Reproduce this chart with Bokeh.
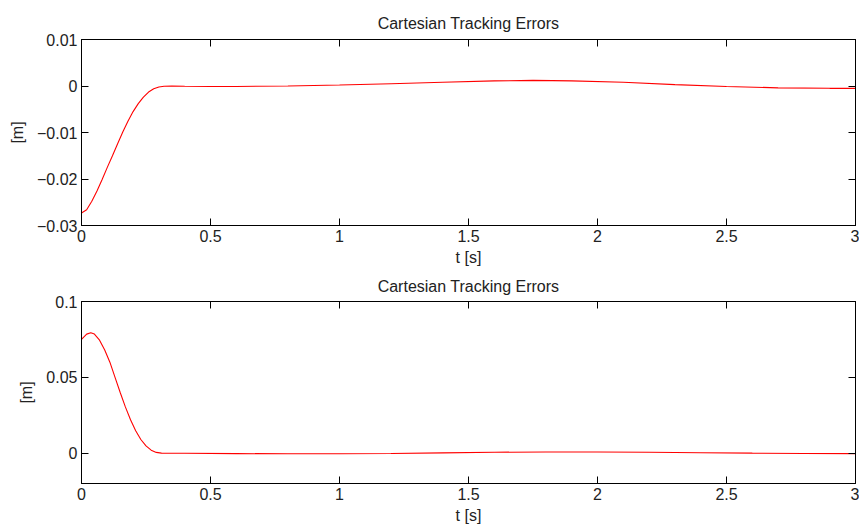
from bokeh.plotting import figure
from bokeh.layouts import column
from bokeh.models import LinearAxis, FixedTicker, Range1d
from bokeh.embed import file_html
from bokeh.resources import INLINE

# ---- data ----
top_t = [0, 0.02, 0.04, 0.06, 0.08, 0.10, 0.12, 0.14, 0.16, 0.18, 0.20, 0.22, 0.24,
         0.26, 0.28, 0.30, 0.32, 0.35, 0.4, 0.5, 0.6, 0.8, 1.0, 1.2, 1.4, 1.6, 1.75,
         1.9, 2.1, 2.3, 2.5, 2.7, 2.9, 3.0]
top_err = [-0.0273, -0.0266, -0.0248, -0.0226, -0.0201, -0.0175, -0.0150, -0.0124,
           -0.0099, -0.0076, -0.0055, -0.0038, -0.0024, -0.0013, -0.0006, -0.0002,
           -0.00005, 0.0, -0.00005, -0.0001, -0.0001, 0.0, 0.0002, 0.0005, 0.0008,
           0.0011, 0.0012, 0.0011, 0.0008, 0.0003, -0.0001, -0.0004, -0.0005, -0.0005]

bot_t = [0, 0.02, 0.036, 0.05, 0.07, 0.09, 0.11, 0.13, 0.15, 0.17, 0.19, 0.21, 0.23,
         0.25, 0.27, 0.29, 0.31, 0.33, 0.4, 0.6, 0.8, 1.0, 1.2, 1.4, 1.6, 1.8, 2.0,
         2.2, 2.4, 2.6, 2.8, 3.0]
bot_err = [0.0751, 0.0785, 0.0794, 0.0785, 0.0745, 0.0680, 0.0600, 0.0500, 0.0400,
           0.0305, 0.0220, 0.0148, 0.0090, 0.0048, 0.0020, 0.0005, 0.0, -0.0001,
           -0.0001, -0.0003, -0.0004, -0.0004, -0.0002, 0.0002, 0.0006, 0.0008,
           0.0008, 0.0006, 0.0003, 0.0, -0.0002, -0.0003]

x_ticks = [0, 0.5, 1, 1.5, 2, 2.5, 3]
x_tick_labels = ["0", "0.5", "1", "1.5", "2", "2.5", "3"]
top_y_ticks = [-0.03, -0.02, -0.01, 0, 0.01]
top_y_tick_labels = ["\u22120.03", "\u22120.02", "\u22120.01", "0", "0.01"]
bot_y_ticks = [0, 0.05, 0.1]
bot_y_tick_labels = ["0", "0.05", "0.1"]

title_text = "Cartesian Tracking Errors"
x_label = "t [s]"
y_label = "[m]"

FONT = "Liberation Sans"
TXT = "#222222"
FS = "16px"


def style_axis(ax, ticks, labels=None):
    ax.ticker = FixedTicker(ticks=ticks)
    ax.major_tick_in = 7
    ax.major_tick_out = 0
    ax.minor_tick_in = 0
    ax.minor_tick_out = 0
    ax.axis_line_color = "black"
    ax.major_tick_line_color = "black"
    if labels is None:
        ax.major_label_text_font_size = "0px"
        ax.major_label_standoff = 0
        ax.major_label_overrides = {t: "" for t in ticks}
    else:
        ax.major_label_overrides = dict(zip(ticks, labels))
        ax.major_label_text_font = FONT
        ax.major_label_text_font_size = FS
        ax.major_label_text_color = TXT


def panel(t, err, yticks, ylabels, yr, height, top, bottom, title_standoff, xl_standoff):
    p = figure(width=859, height=height, output_backend="svg", toolbar_location=None,
               x_range=Range1d(0, 3), y_range=Range1d(*yr),
               min_border_left=81, min_border_right=4,
               min_border_top=top, min_border_bottom=bottom)
    p.title.text = title_text
    p.title.align = "center"
    p.title.text_font = FONT
    p.title.text_font_size = FS
    p.title.text_font_style = "normal"
    p.title.text_color = TXT
    p.title.standoff = title_standoff
    p.xgrid.visible = False
    p.ygrid.visible = False
    p.outline_line_color = "black"
    p.outline_line_width = 1
    p.background_fill_color = "white"
    p.border_fill_color = "white"

    style_axis(p.xaxis[0], x_ticks, x_tick_labels)
    p.xaxis[0].major_label_standoff = 4
    p.xaxis[0].axis_label = x_label
    p.xaxis[0].axis_label_text_font = FONT
    p.xaxis[0].axis_label_text_font_size = FS
    p.xaxis[0].axis_label_text_font_style = "normal"
    p.xaxis[0].axis_label_text_color = TXT
    p.xaxis[0].axis_label_standoff = xl_standoff

    style_axis(p.yaxis[0], yticks, ylabels)
    p.yaxis[0].major_label_standoff = 4
    p.yaxis[0].axis_label = y_label
    p.yaxis[0].axis_label_text_font = FONT
    p.yaxis[0].axis_label_text_font_size = FS
    p.yaxis[0].axis_label_text_font_style = "normal"
    p.yaxis[0].axis_label_text_color = TXT
    p.yaxis[0].axis_label_standoff = 8

    ax_top = LinearAxis()
    style_axis(ax_top, x_ticks)
    p.add_layout(ax_top, "above")
    ax_right = LinearAxis()
    style_axis(ax_right, yticks)
    p.add_layout(ax_right, "right")

    p.line(t, err, line_color="red", line_width=1.1)
    return p


p1 = panel(top_t, top_err, top_y_ticks, top_y_tick_labels, (-0.03, 0.01),
           268, 39, 43, 16, 4)
p2 = panel(bot_t, bot_err, bot_y_ticks, bot_y_tick_labels, (-0.02, 0.1),
           258, 31, 41, 14, 4)

layout = column(p1, p2, spacing=0)
open("out.html", "w").write(file_html(layout, INLINE))
